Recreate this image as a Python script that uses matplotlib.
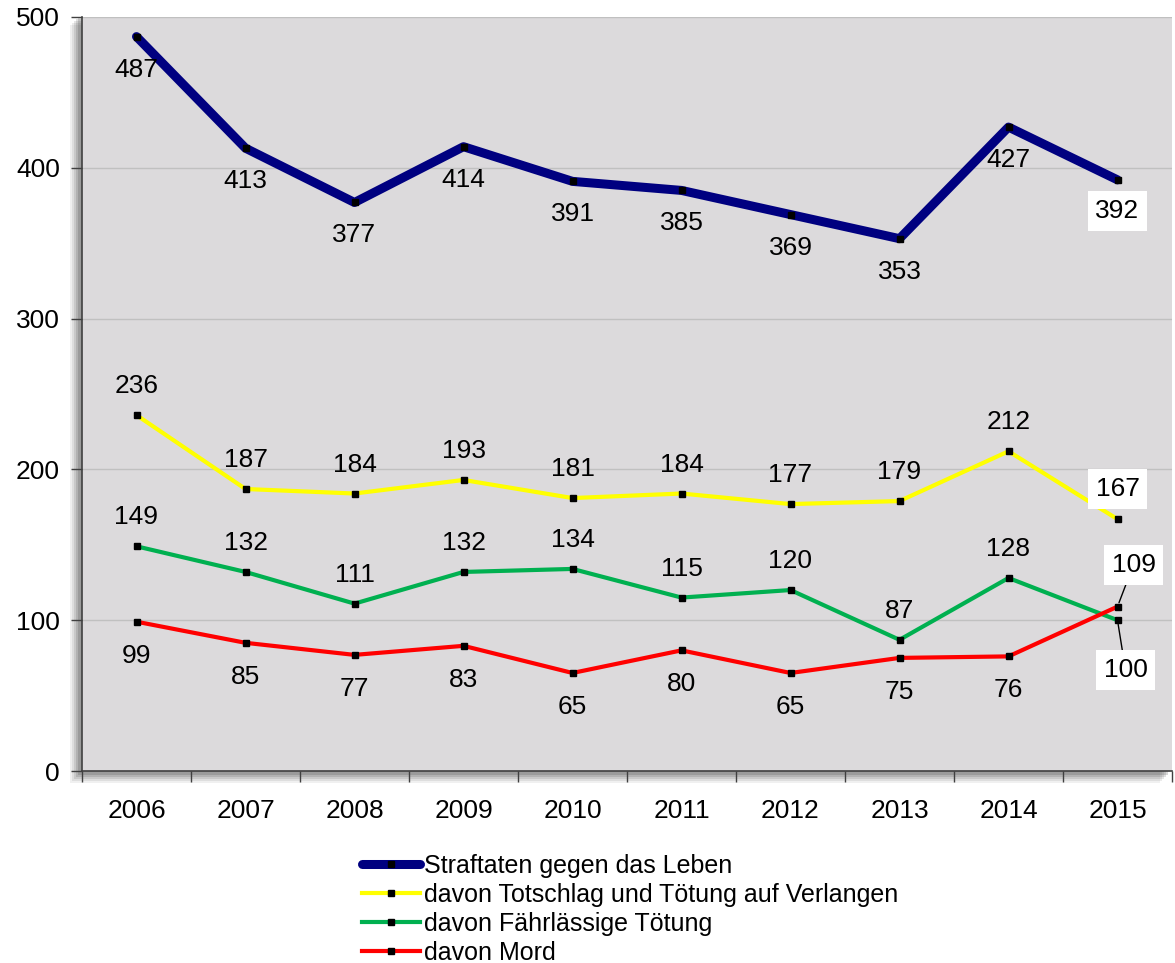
import matplotlib
matplotlib.use("Agg")
import matplotlib.pyplot as plt
from matplotlib.patches import Rectangle

plt.rcParams['font.family'] = ['Liberation Sans', 'DejaVu Sans']

jahre = ['2006', '2007', '2008', '2009', '2010', '2011', '2012', '2013', '2014', '2015']
leben = [487, 413, 377, 414, 391, 385, 369, 353, 427, 392]
totschlag = [236, 187, 184, 193, 181, 184, 177, 179, 212, 167]
fahrl = [149, 132, 111, 132, 134, 115, 120, 87, 128, 100]
mord = [99, 85, 77, 83, 65, 80, 65, 75, 76, 109]

namen = ['Straftaten gegen das Leben',
         'davon Totschlag und Tötung auf Verlangen',
         'davon Fährlässige Tötung',
         'davon Mord']

W, H = 1175, 963
fig = plt.figure(figsize=(W / 100, H / 100), dpi=100)
ax_rect = [82 / W, 192 / H, 1090 / W, 754 / H]

# Schatten links/unten, eigene Achse hinter dem Diagramm
sh = fig.add_axes([0, 0, 1, 1])
sh.set_axis_off()
sh.set_xlim(0, W)
sh.set_ylim(0, H)
for i, a in enumerate([0.08, 0.10, 0.13, 0.16, 0.2]):
    off = 12 - i * 2
    sh.add_patch(Rectangle((82 - off, 192 - off), 1090, 754 + 4,
                           color='#404040', alpha=a, lw=0))

ax = fig.add_axes(ax_rect)
ax.set_facecolor('#dcdadc')
x = list(range(len(jahre)))

ax.plot(x, leben, color='#000080', lw=6.5, solid_capstyle='round',
        marker='s', ms=4.5, mfc='black', mec='black', label=namen[0], zorder=5)
ax.plot(x, totschlag, color='#ffff00', lw=3,
        marker='s', ms=4.5, mfc='black', mec='black', label=namen[1], zorder=4)
ax.plot(x, fahrl, color='#00b050', lw=3,
        marker='s', ms=4.5, mfc='black', mec='black', label=namen[2], zorder=4)
ax.plot(x, mord, color='#ff0000', lw=3,
        marker='s', ms=4.5, mfc='black', mec='black', label=namen[3], zorder=4)

box = dict(boxstyle='square,pad=0.3', fc='white', ec='none')
fs = 19

def beschriften(werte, dy, letzte=None, pfeil=False):
    for i, v in enumerate(werte):
        off = (0, dy)
        kw = {}
        if i == len(werte) - 1 and letzte is not None:
            off = letzte
            kw['bbox'] = box
            if pfeil:
                kw['arrowprops'] = dict(arrowstyle='-', color='black', lw=1,
                                        shrinkA=0, shrinkB=3)
        ax.annotate(str(v), (i, v), xytext=off, textcoords='offset pixels',
                    ha='center', va='center', fontsize=fs, zorder=6, **kw)

beschriften(leben, -33, letzte=(0, -31))
beschriften(totschlag, 29, letzte=(0, 30))
beschriften(fahrl, 29, letzte=(8, -50), pfeil=True)
beschriften(mord, -34, letzte=(16, 42), pfeil=True)

ax.set_xlim(-0.5, 9.5)
ax.set_ylim(0, 500)
ax.set_yticks([0, 100, 200, 300, 400, 500])
ax.yaxis.grid(True, color='#c0c0c0', lw=1)
ax.set_axisbelow(True)
ax.set_xticks(x)
ax.set_xticklabels(jahre)
ax.set_xticks([i - 0.5 for i in range(11)], minor=True)
ax.tick_params(axis='x', which='major', length=0, pad=20, labelsize=fs)
ax.tick_params(axis='x', which='minor', length=8, width=1, color='#404040', direction='out')
ax.tick_params(axis='y', length=8, width=1, color='#404040', pad=8, labelsize=fs)
for s in ['top', 'right']:
    ax.spines[s].set_visible(False)
for s in ['left', 'bottom']:
    ax.spines[s].set_color('#404040')
    ax.spines[s].set_linewidth(1.2)

fig.legend(loc='upper left', bbox_to_anchor=(362 / W, 1 - 854 / H),
           frameon=False, fontsize=18, handlelength=2.3, handletextpad=0.2,
           labelspacing=0.2, borderaxespad=0, borderpad=0)

fig.savefig('out.png', dpi=100)
